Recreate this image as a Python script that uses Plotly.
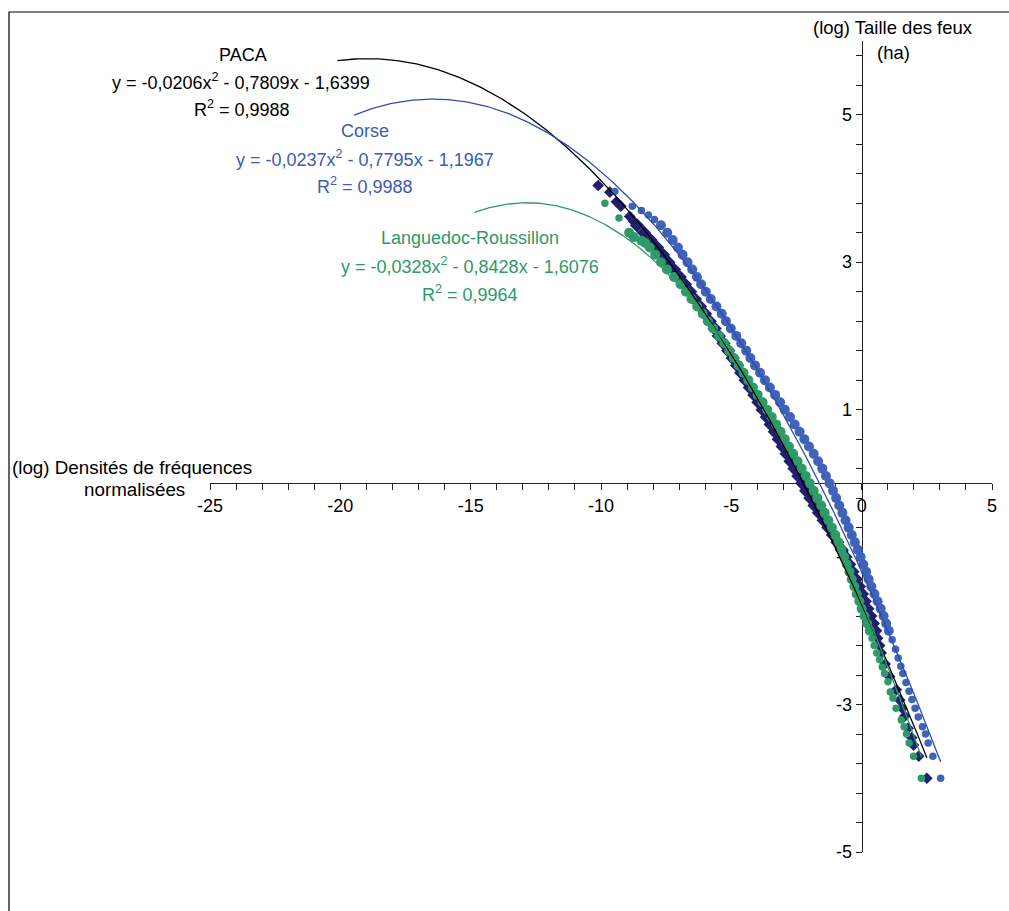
import numpy as np
import plotly.graph_objects as go

# ---------------- data ----------------
# PACA (navy diamonds): y = log size, x = log normalised frequency density
paca_y = [4.04, 3.95, 3.82, 3.76, 3.62, 3.56,
          3.5, 3.4, 3.3, 3.2, 3.1, 3.0, 2.9, 2.8, 2.7, 2.6, 2.5, 2.4, 2.3, 2.2, 2.1,
          2.0, 1.9, 1.8, 1.7, 1.6, 1.5, 1.4, 1.3, 1.2, 1.1, 1.0, 0.9, 0.8, 0.7, 0.6,
          0.5, 0.4, 0.3, 0.2, 0.1, 0.0, -0.1, -0.2, -0.3, -0.4, -0.5, -0.6, -0.7,
          -0.8, -0.9, -1.0, -1.1, -1.2, -1.3, -1.4, -1.5, -1.6, -1.7, -1.8, -1.9,
          -2.0, -2.1,
          -2.20, -2.30, -2.45, -2.62, -2.80, -2.94, -3.05, -3.16, -3.32, -3.45,
          -3.55, -3.70, -4.00]
paca_x = [-10.11, -9.66, -9.41, -9.24, -8.90, -8.76,
          -8.62, -8.35, -8.10, -7.85, -7.62, -7.42, -7.20, -6.98, -6.78, -6.58,
          -6.40, -6.20, -6.01, -5.83, -5.64, -5.48, -5.30, -5.12, -4.95, -4.78,
          -4.62, -4.45, -4.29, -4.12, -3.96, -3.80, -3.64, -3.49, -3.33, -3.18,
          -3.03, -2.88, -2.73, -2.58, -2.43, -2.28, -2.13, -1.97, -1.81, -1.64,
          -1.46, -1.28, -1.10, -0.93, -0.77, -0.62, -0.48, -0.35, -0.22, -0.10,
          0.01, 0.12, 0.22, 0.33, 0.43, 0.52, 0.61,
          0.69, 0.75, 0.90, 1.07, 1.33, 1.46, 1.55, 1.65, 1.78, 1.92,
          1.99, 2.19, 2.50]

# Corse (blue circles)
corse_y = [3.96, 3.76, 3.70, 3.64, 3.58,
           3.5, 3.4, 3.3, 3.2, 3.1, 3.0, 2.9, 2.8, 2.7, 2.6, 2.5, 2.4, 2.3, 2.2,
           2.1, 2.0, 1.9, 1.8, 1.7, 1.6, 1.5, 1.4, 1.3, 1.2, 1.1, 1.0, 0.9, 0.8,
           0.7, 0.6, 0.5, 0.4, 0.3, 0.2, 0.1, 0.0, -0.1, -0.2, -0.3, -0.4, -0.5,
           -0.6, -0.7, -0.8, -0.9, -1.0, -1.1, -1.2, -1.3, -1.4, -1.5, -1.6, -1.7,
           -1.8, -1.9, -2.0,
           -2.12, -2.25, -2.37, -2.48, -2.58, -2.70, -2.82, -2.93, -3.05, -3.17,
           -3.30, -3.40, -3.52, -3.70, -4.00]
corse_x = [-9.47, -8.80, -8.45, -8.18, -7.95,
           -7.70, -7.46, -7.25, -7.05, -6.87, -6.68, -6.50, -6.32, -6.16, -5.98,
           -5.79, -5.57, -5.37, -5.21, -5.02, -4.81, -4.62, -4.43, -4.27, -4.09,
           -3.90, -3.71, -3.52, -3.32, -3.13, -2.95, -2.75, -2.57, -2.38, -2.20,
           -2.02, -1.84, -1.67, -1.51, -1.37, -1.23, -1.10, -0.98, -0.86, -0.74,
           -0.62, -0.50, -0.38, -0.26, -0.15, -0.04, 0.06, 0.17, 0.27, 0.37,
           0.49, 0.61, 0.73, 0.84, 0.94, 1.04,
           1.17, 1.30, 1.40, 1.50, 1.58, 1.70, 1.82, 1.93, 2.05, 2.17,
           2.33, 2.45, 2.55, 2.73, 3.03]

# Languedoc-Roussillon (green circles)
lr_y = [3.80, 3.60, 3.40, 3.34, 3.29, 3.26,
        3.2, 3.1, 3.0, 2.9, 2.8, 2.7, 2.6, 2.5, 2.4, 2.3, 2.2, 2.1, 2.0, 1.9,
        1.8, 1.7, 1.6, 1.5, 1.4, 1.3, 1.2, 1.1, 1.0, 0.9, 0.8, 0.7, 0.6, 0.5,
        0.4, 0.3, 0.2, 0.1, 0.0, -0.1, -0.2, -0.3, -0.4, -0.5, -0.6, -0.7, -0.8,
        -0.9, -1.0, -1.1, -1.2, -1.3, -1.4, -1.5, -1.6, -1.7, -1.8, -1.9, -2.0,
        -2.1,
        -2.20, -2.30, -2.39, -2.49, -2.58, -2.69, -2.83, -2.91, -3.05, -3.21,
        -3.30, -3.40, -3.52, -3.70, -4.00]
lr_x = [-9.85, -9.31, -8.92, -8.74, -8.45, -8.30,
        -8.13, -7.92, -7.70, -7.47, -7.20, -6.95, -6.74, -6.53, -6.31, -6.10,
        -5.90, -5.70, -5.47, -5.27, -5.08, -4.90, -4.72, -4.53, -4.35, -4.17,
        -3.99, -3.80, -3.63, -3.45, -3.28, -3.11, -2.95, -2.79, -2.63, -2.46,
        -2.30, -2.14, -1.99, -1.84, -1.70, -1.55, -1.42, -1.28, -1.14, -1.01,
        -0.89, -0.78, -0.67, -0.57, -0.47, -0.38, -0.28, -0.19, -0.09, 0.00,
        0.11, 0.21, 0.31, 0.40,
        0.48, 0.58, 0.69, 0.79, 0.88, 1.01, 1.10, 1.20, 1.32, 1.52,
        1.63, 1.72, 1.82, 1.99, 2.29]

# polynomial trendlines shown on the chart (coefficients of x^2, x, 1)
paca_coef = [-0.0206, -0.7809, -1.6399]
corse_coef = [-0.0237, -0.7795, -1.1967]
lr_coef = [-0.0328, -0.8428, -1.6076]
# x where each trendline starts (backward forecast); it ends at the data max
paca_trend_start = -20.11
corse_trend_start = -19.47
lr_trend_start = -14.85

x_tickvals = [-25, -20, -15, -10, -5, 0, 5]
x_ticktext = ["-25", "-20", "-15", "-10", "-5", "0", "5"]
y_tickvals = [-5, -3, -1, 1, 3, 5]
y_ticktext = ["-5", "-3", "-1", "1", "3", "5"]

# ---------------- styling ----------------
FONT = "Liberation Sans, Arial, sans-serif"
FS = 18
NAVY = "#20206E"
BLUE = "#3F63B8"
BLUE_LINE = "#2F4DAE"
BLUE_TXT = "#3B5CB2"
GREEN = "#2E9A68"

W, H = 1009, 911
ML, MR, MT, MB = 210, 17, 41, 59
XR = [-25, 5]
YR = [-5, 6]


def fx(px):
    return (px - ML) / (W - ML - MR)


def fy(py):
    return (H - MB - py) / (H - MT - MB)


def marker_sizes(ys, band_size, tail_size):
    # the dense middle of each cloud reads as a thick band, the ends as dots
    return [band_size if -2.05 <= v <= 3.55 else tail_size for v in ys]


fig = go.Figure()

fig.add_trace(go.Scatter(x=paca_x, y=paca_y, mode="markers",
                         marker=dict(symbol="diamond", size=marker_sizes(paca_y, 11, 9),
                                     color=NAVY, opacity=1, line=dict(width=0)),
                         name="PACA", showlegend=False))
fig.add_trace(go.Scatter(x=corse_x, y=corse_y, mode="markers",
                         marker=dict(symbol="circle", size=marker_sizes(corse_y, 10, 7.5),
                                     color=BLUE, opacity=1, line=dict(width=0)),
                         name="Corse", showlegend=False))
fig.add_trace(go.Scatter(x=lr_x, y=lr_y, mode="markers",
                         marker=dict(symbol="circle", size=marker_sizes(lr_y, 10, 7.5),
                                     color=GREEN, opacity=1, line=dict(width=0)),
                         name="Languedoc-Roussillon", showlegend=False))

for coef, x0, xs, col in [(paca_coef, paca_trend_start, paca_x, "black"),
                          (corse_coef, corse_trend_start, corse_x, BLUE_LINE),
                          (lr_coef, lr_trend_start, lr_x, GREEN)]:
    xx = np.linspace(x0, max(xs), 300)
    yy = np.polyval(coef, xx)
    fig.add_trace(go.Scatter(x=xx, y=yy, mode="lines",
                             line=dict(color=col, width=1.3),
                             showlegend=False, hoverinfo="skip"))

annots = [
    ("PACA", 243, 55, "black", FS),
    ("y = -0,0206x<sup>2</sup> - 0,7809x - 1,6399", 241, 82, "black", FS),
    ("R<sup>2</sup> = 0,9988", 242, 108, "black", FS),
    ("Corse", 365, 131.5, BLUE_TXT, FS),
    ("y = -0,0237x<sup>2</sup> - 0,7795x - 1,1967", 365, 159, BLUE_TXT, FS),
    ("R<sup>2</sup> = 0,9988", 365, 185, BLUE_TXT, FS),
    ("Languedoc-Roussillon", 470, 238, GREEN, FS),
    ("y = -0,0328x<sup>2</sup> - 0,8428x - 1,6076", 470, 265, GREEN, FS),
    ("R<sup>2</sup> = 0,9964", 470, 293, GREEN, FS),
    ("(log) Taille des feux", 893, 27.5, "black", 18.5),
    ("(ha)", 893.5, 52, "black", 18.5),
    ("(log) Densités de fréquences", 131.5, 467.5, "black", 18.8),
    ("normalisées", 134, 489, "black", 18.8),
]
for text, px, py, col, size in annots:
    fig.add_annotation(text=text, x=fx(px), y=fy(py), xref="paper", yref="paper",
                       xanchor="center", yanchor="middle", showarrow=False,
                       font=dict(family=FONT, size=size, color=col))

# outer chart frame (only top and left edges visible in the picture)
fig.add_shape(type="rect", xref="paper", yref="paper",
              x0=fx(9), y0=fy(12), x1=fx(1030), y1=fy(940),
              line=dict(color="black", width=1.2), fillcolor="rgba(0,0,0,0)")

axis_common = dict(showline=True, linecolor="#222", linewidth=1,
                   showgrid=False, zeroline=False, tickmode="array",
                   ticks="outside", ticklen=6, tickcolor="#222", tickwidth=1,
                   tickfont=dict(family=FONT, size=FS, color="black"),
                   layer="below traces", anchor="free")

fig.update_layout(
    width=W, height=H,
    margin=dict(l=ML, r=MR, t=MT, b=MB, pad=0),
    paper_bgcolor="white", plot_bgcolor="white",
    font=dict(family=FONT, size=FS, color="black"),
    showlegend=False,
    xaxis=dict(range=XR, position=(0 - YR[0]) / (YR[1] - YR[0]),
               tickvals=x_tickvals, ticktext=x_ticktext,
               minor=dict(tickmode="linear", tick0=0, dtick=1, ticks="outside",
                          ticklen=6, tickcolor="#222", tickwidth=1, showgrid=False),
               **axis_common),
    yaxis=dict(range=YR, position=(0 - XR[0]) / (XR[1] - XR[0]),
               tickvals=y_tickvals, ticktext=y_ticktext,
               minor=dict(tickmode="linear", tick0=-5, dtick=0.4, ticks="outside",
                          ticklen=6, tickcolor="#222", tickwidth=1, showgrid=False),
               **axis_common),
)

fig.write_html("out.html",
               config={"displayModeBar": False},
               post_script="document.body.style.margin='0px';"
                           "document.body.style.padding='0px';")
